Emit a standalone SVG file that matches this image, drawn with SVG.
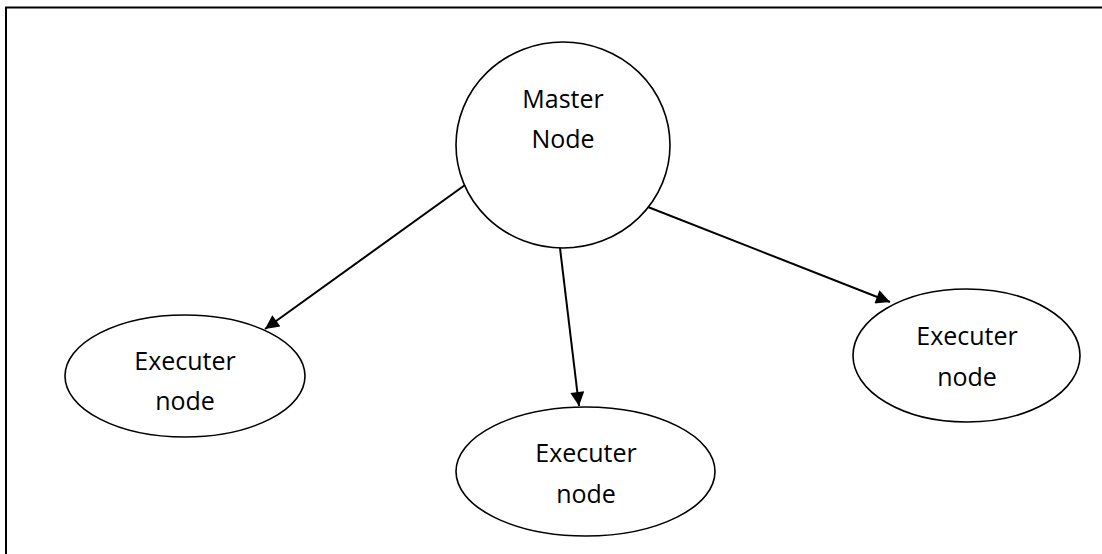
<svg xmlns="http://www.w3.org/2000/svg" width="1102" height="554" viewBox="0 0 1102 554">
  <style>
    .frame { fill: none; stroke: #000; stroke-width: 2; }
    .node { fill: #fff; stroke: #000; stroke-width: 1.6; }
    .label { font-family: "Open Sans", Carlito, Calibri, sans-serif; font-size: 25px; fill: #000; text-anchor: middle; }
    .edge { fill: none; stroke: #000; stroke-width: 2; marker-end: url(#arrow); }
  </style>
  <defs>
    <marker id="arrow" viewBox="0 0 10 10" refX="10" refY="5" markerWidth="8" markerHeight="7" markerUnits="strokeWidth" orient="auto">
      <path d="M0,0 L10,5 L0,10 Z" fill="#000"/>
    </marker>
  </defs>
  <rect width="1102" height="554" fill="#fff"/>

  <!-- outer border (top and left edges) -->
  <path class="frame" d="M6,554 L6,7.5 L1102,7.5"/>

  <g id="connectors">
    <line class="edge" x1="465" y1="185" x2="265" y2="329"/>
    <line class="edge" x1="560" y1="248" x2="579" y2="406"/>
    <line class="edge" x1="648" y1="207" x2="890" y2="302"/>
  </g>

  <g id="master">
    <ellipse class="node" cx="563" cy="145" rx="107" ry="103"/>
    <text class="label" x="563" y="108">Master</text>
    <text class="label" x="563" y="148">Node</text>
  </g>

  <g id="executer-left">
    <ellipse class="node" cx="185" cy="376" rx="120" ry="61"/>
    <text class="label" x="185" y="370">Executer</text>
    <text class="label" x="185" y="410">node</text>
  </g>

  <g id="executer-middle">
    <ellipse class="node" cx="585.5" cy="471.5" rx="129.5" ry="64.5"/>
    <text class="label" x="586" y="462">Executer</text>
    <text class="label" x="586" y="503">node</text>
  </g>

  <g id="executer-right">
    <ellipse class="node" cx="966.5" cy="355.5" rx="113.5" ry="66.5"/>
    <text class="label" x="967" y="345">Executer</text>
    <text class="label" x="967" y="386">node</text>
  </g>
</svg>
